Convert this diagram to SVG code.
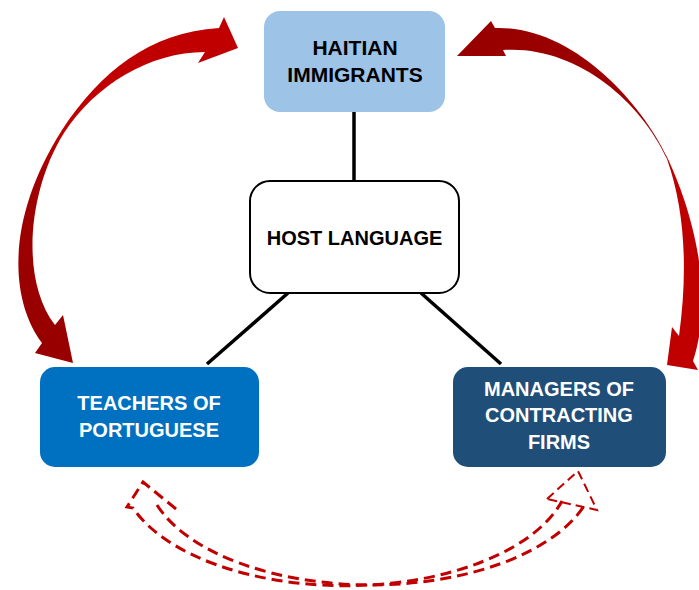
<svg xmlns="http://www.w3.org/2000/svg" width="699" height="590" viewBox="0 0 699 590">
<defs>
<style>
.lbl{font-family:"Liberation Sans",Arial,sans-serif;font-weight:bold;font-size:20px;text-anchor:middle}
.big{font-size:21px}
.dk{fill:#000}
.wt{fill:#fff}
.conn{stroke:#000;stroke-width:3.5;fill:none}
.dash{fill:none;stroke:#C00000;stroke-width:3;stroke-dasharray:11 6}
.dashhead{fill:none;stroke:#C00000;stroke-width:2;stroke-dasharray:9 5}
</style>
<linearGradient id="gL" gradientUnits="userSpaceOnUse" x1="200" y1="40" x2="50" y2="340">
<stop offset="0" stop-color="#C00000"/>
<stop offset="0.42" stop-color="#C00000"/>
<stop offset="0.6" stop-color="#A00000"/>
<stop offset="1" stop-color="#980000"/>
</linearGradient>
<linearGradient id="gR" gradientUnits="userSpaceOnUse" x1="500" y1="40" x2="690" y2="340">
<stop offset="0" stop-color="#980000"/>
<stop offset="0.4" stop-color="#A00000"/>
<stop offset="0.58" stop-color="#C00000"/>
<stop offset="1" stop-color="#C00000"/>
</linearGradient>
</defs>
<rect width="699" height="590" fill="#fff"/>
<g id="connectors">
<line class="conn" x1="354" y1="111" x2="354" y2="182"/>
<line class="conn" x1="288" y1="293" x2="207" y2="364"/>
<line class="conn" x1="421" y1="293" x2="501" y2="364"/>
<path id="arrow-left" fill="url(#gL)" d="M 42,343 C 10,300 5,220 62,130 C 100,72 150,32 219,28 L 224,17 L 238,48 L 198,63 L 205,52 C 150,52 95,85 64,133 C 28,190 20,280 55,325 L 63,315 L 73,363 L 35,353 Z"/>
<path id="arrow-right" fill="url(#gR)" d="M 495,28 C 570,25 640,100 667,157 C 690,205 716,290 693,361 L 698,370 L 667,365 L 672,327 L 679,336 C 688,270 685,210 667,159 C 640,100 575,45 503,50 L 506,56 L 457,56 L 491,21 Z"/>
<g id="arrow-bottom">
<path class="dash" d="M 176,509 L 143,482 L 127,507 L 133,508 A 225 116 0 0 0 562,501"/>
<path class="dash" d="M 157,505 A 225 116 0 0 0 584,506"/>
<path class="dashhead" d="M 547,499 L 578,471 L 597,510 Z"/>
</g>
</g>
<g id="node-haitian">
<rect x="264" y="11" width="181" height="101" rx="16" fill="#9DC3E6"/>
<text class="lbl big dk" x="355" y="55">HAITIAN</text>
<text class="lbl big dk" x="355" y="82">IMMIGRANTS</text>
</g>
<g id="node-host">
<rect x="250" y="181" width="209" height="112" rx="20" fill="#fff" stroke="#000" stroke-width="2"/>
<text class="lbl dk" x="354.5" y="245">HOST LANGUAGE</text>
</g>
<g id="node-teachers">
<rect x="40" y="367" width="219" height="100" rx="15" fill="#0070C0"/>
<text class="lbl wt" x="149" y="410">TEACHERS OF</text>
<text class="lbl wt" x="149" y="437">PORTUGUESE</text>
</g>
<g id="node-managers">
<rect x="453" y="367" width="213" height="100" rx="15" fill="#1F4E79"/>
<text class="lbl wt" x="559" y="396">MANAGERS OF</text>
<text class="lbl wt" x="559" y="422">CONTRACTING</text>
<text class="lbl wt" x="559" y="449">FIRMS</text>
</g>
</svg>
